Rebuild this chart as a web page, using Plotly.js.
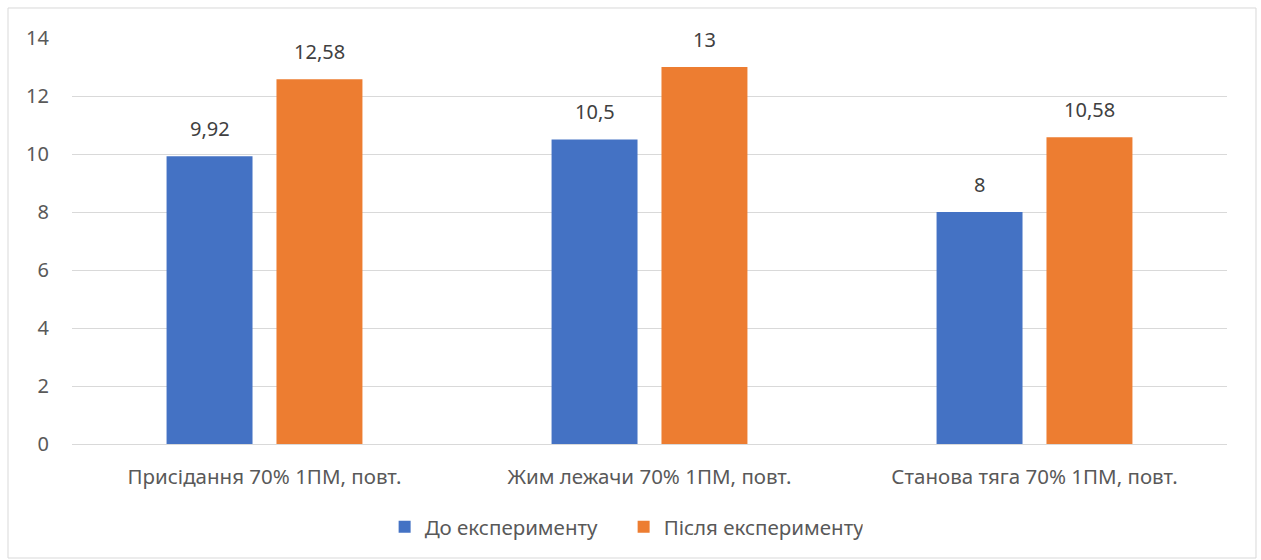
<!DOCTYPE html>
<html>
<head>
<meta charset="utf-8">
<script src="https://cdn.plot.ly/plotly-3.0.1.min.js"></script>
<style>html,body{margin:0;padding:0;background:#fff;}#chart{width:1261px;height:560px;}</style>
</head>
<body>
<div id="chart"></div>
<script>
const categories = ["Присідання 70% 1ПМ, повт.", "Жим лежачи 70% 1ПМ, повт.", "Станова тяга 70% 1ПМ, повт."];
const before = [9.92, 10.5, 8];
const after = [12.58, 13, 10.58];
const seriesNames = ["До експерименту", "Після експерименту"];
const yTicks = [0, 2, 4, 6, 8, 10, 12, 14];

const colors = ["#4472C4", "#ED7D31"];
const font = "Noto Sans, Open Sans, sans-serif";
const txt = "#595959";

const fmt = v => String(v).replace('.', ',');

const traces = [before, after].map((vals, i) => ({
  type: 'bar', x: categories, y: vals, name: seriesNames[i],
  marker: {color: colors[i]}, hoverinfo: 'skip'
}));

const annotations = [];
[before, after].forEach((vals, i) => {
  vals.forEach((v, j) => {
    annotations.push({
      x: categories[j], y: v, xref: 'x', yref: 'y', text: fmt(v),
      showarrow: false, xshift: i === 0 ? -55 : 55, yshift: 28,
      font: {family: font, size: 20, color: '#404040'}
    });
  });
});

const layout = {
  width: 1261, height: 560,
  margin: {l: 72, r: 34, t: 38, b: 116},
  paper_bgcolor: '#fff', plot_bgcolor: '#fff',
  barmode: 'group', bargap: 0.429, bargroupgap: 0.218,
  separators: ', ',
  font: {family: font, size: 20, color: txt},
  xaxis: {showgrid: false, showline: false, zeroline: false, ticks: '', ticklabelstandoff: 18, tickfont: {family: font, size: 20.5, color: txt}},
  yaxis: {range: [0, 14], tickvals: yTicks, showgrid: true, gridcolor: '#d9d9d9', gridwidth: 1,
          zeroline: true, zerolinecolor: '#d9d9d9', zerolinewidth: 1, showline: false, ticks: '',
          ticklabelstandoff: 22, tickfont: {family: font, size: 20, color: txt}},
  legend: {orientation: 'h', x: 0.4776, xanchor: 'center', y: -0.204, yanchor: 'middle',
           font: {family: font, size: 20.5, color: txt}, itemwidth: 30, traceorder: 'normal',
           entrywidth: 194, entrywidthmode: 'pixels'},
  annotations: annotations,
  shapes: [{type: 'rect', xref: 'paper', yref: 'paper', x0: -0.0554, x1: 1.0251, y0: -0.2808, y1: 1.0739,
            line: {color: '#d9d9d9', width: 1}, fillcolor: 'rgba(0,0,0,0)', layer: 'below'}]
};

Plotly.newPlot('chart', traces, layout, {displayModeBar: false, staticPlot: true});
</script>
</body>
</html>
